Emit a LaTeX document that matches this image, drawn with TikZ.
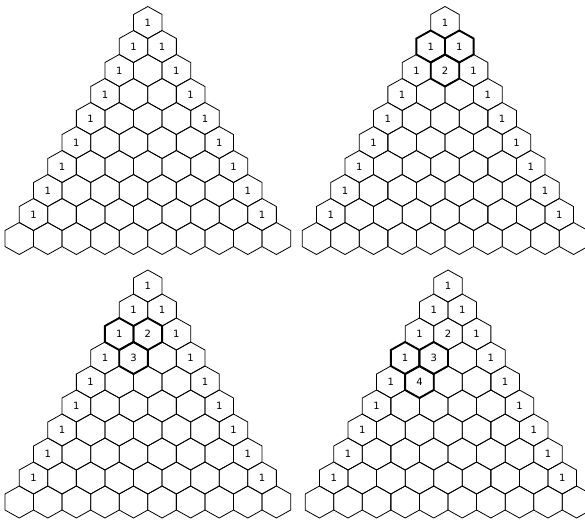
\documentclass[tikz,border=0pt]{standalone}
\usepackage{fontspec}
\setmainfont{DejaVu Sans}
\usetikzlibrary{calc}

\begin{document}
\begin{tikzpicture}[
  x=1pt, y=-1pt,
  cell/.style={draw=black, line width=0.8pt},
  boldcell/.style={draw=black, line width=1.9pt},
  num/.style={font=\fontsize{10}{12}\selectfont, inner sep=0pt},
  hexcell/.pic={\path[pic actions] (0,-16) -- (14.285,-8) -- (14.285,8)
    -- (0,16) -- (-14.285,8) -- (-14.285,-8) -- cycle;}
]
  \useasboundingbox (0,0) rectangle (585,520);
  \clip (0,0) rectangle (585,520);

  % Four copies of the triangle
  \foreach \px/\py/\pn in {147.8/22.5/a, 445/22.5/b, 147.8/286/c, 448/286/d}{
    \begin{scope}[shift={(\px,\py)}]
      \foreach \k in {0,...,9}
        \foreach \j in {0,...,\k}
          \pic[cell] at ({(\j-\k/2)*28.57},{24*\k}) {hexcell};
      % ones down both edges
      \foreach \k in {0,...,8}
        \node[num] (\pn-l\k) at ({-\k*14.285},{24*\k}) {1};
      \foreach \k in {1,...,8}
        \node[num] (\pn-r\k) at ({\k*14.285},{24*\k}) {1};
    \end{scope}
  }

  % Step 1: 1+1
  \begin{scope}[shift={(445,22.5)}]
    \pic[boldcell] at (-14.285,24) {hexcell};
    \pic[boldcell] at (14.285,24) {hexcell};
    \pic[boldcell] at (0,48) {hexcell};
    \node[num] (b-two) at (0,48) {2};
  \end{scope}

  % Step 2: 1+2
  \begin{scope}[shift={(147.8,286)}]
    \pic[boldcell] at (-28.57,48) {hexcell};
    \pic[boldcell] at (0,48) {hexcell};
    \pic[boldcell] at (-14.285,72) {hexcell};
    \node[num] (c-two) at (0,48) {2};
    \node[num] (c-three) at (-14.285,72) {3};
  \end{scope}

  % Step 3: 1+3
  \begin{scope}[shift={(448,286)}]
    \pic[boldcell] at (-42.855,72) {hexcell};
    \pic[boldcell] at (-14.285,72) {hexcell};
    \pic[boldcell] at (-28.57,96) {hexcell};
    \node[num] (d-two) at (0,48) {2};
    \node[num] (d-three) at (-14.285,72) {3};
    \node[num] (d-four) at (-28.57,96) {4};
  \end{scope}
\end{tikzpicture}
\end{document}
